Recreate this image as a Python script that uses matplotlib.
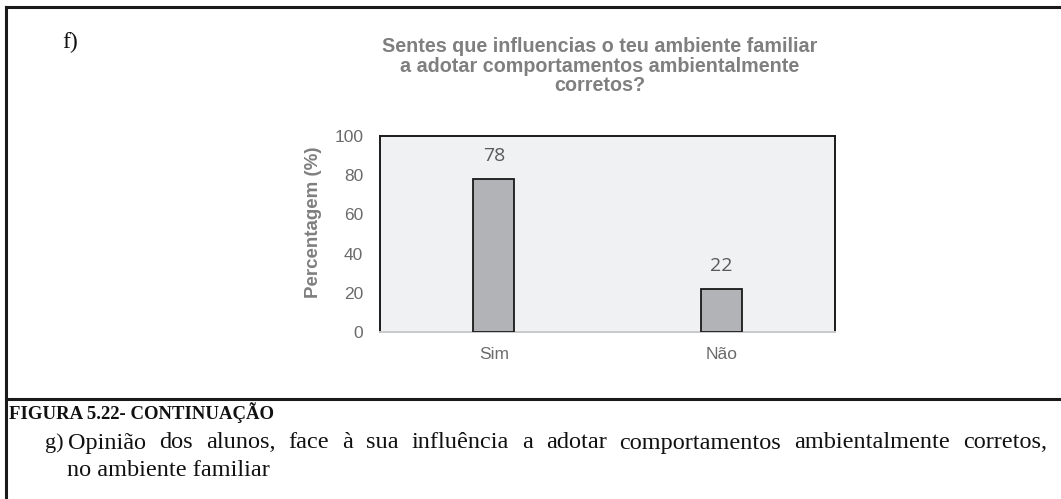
# Figura 5.22 f) - influência no ambiente familiar

import matplotlib
matplotlib.use("Agg")
from matplotlib import pyplot as plt
from matplotlib.lines import Line2D

categorias = ["Sim", "Não"]
percentagens = [78, 22]
yticks = [0, 20, 40, 60, 80, 100]

titulo = "Sentes que influencias o teu ambiente familiar\na adotar comportamentos ambientalmente\ncorretos?"
ylabel = "Percentagem (%)"
legenda_figura = "FIGURA 5.22- CONTINUAÇÃO"
texto_g1 = "Opinião dos alunos, face à sua influência a adotar comportamentos ambientalmente corretos,"
texto_g2 = "no ambiente familiar"

W, H = 1061, 499
fig = plt.figure(figsize=(W / 100, H / 100), dpi=100)
fig.patch.set_facecolor("white")

# moldura da página
fig.add_artist(Line2D([6 / W, 6 / W], [0, 1 - 7 / H], color="#1a1a1a", lw=2.2, transform=fig.transFigure))
fig.add_artist(Line2D([6 / W, 1], [1 - 7 / H, 1 - 7 / H], color="#1a1a1a", lw=2.2, transform=fig.transFigure))
fig.add_artist(Line2D([6 / W, 1], [1 - 399 / H, 1 - 399 / H], color="#1a1a1a", lw=2.2, transform=fig.transFigure))

fig.text(62 / W, 1 - 42 / H, "f)", family="Liberation Serif", fontsize=17, va="center", ha="left", color="#111111")

# gráfico
ax = fig.add_axes([380 / W, 1 - 332 / H, 455 / W, 196 / H])
ax.set_facecolor("#f0f1f3")
x = list(range(len(categorias)))
ax.bar(x, percentagens, width=0.18, color="#b2b3b6", edgecolor="#1a1a1a", linewidth=1.3, zorder=3)
for xi, v in zip(x, percentagens):
    ax.text(xi, v + 7, str(v), ha="center", va="bottom", fontsize=14, family="Open Sans", color="#595959")

ax.set_xlim(-0.5, 1.5)
ax.set_ylim(0, 100)
ax.set_yticks(yticks)
ax.set_xticks(x)
ax.set_xticklabels(categorias)
ax.tick_params(axis="both", length=0, labelsize=12.5, labelcolor="#6b6b6b")
ax.tick_params(axis="y", pad=12)
ax.tick_params(axis="x", pad=11)
for lab in ax.get_xticklabels() + ax.get_yticklabels():
    lab.set_family("Liberation Sans")

for s in ["left", "top", "right"]:
    ax.spines[s].set_color("#1a1a1a")
    ax.spines[s].set_linewidth(1.4)
ax.spines["bottom"].set_color("#c9c9c9")
ax.spines["bottom"].set_linewidth(1.4)

fig.text(313 / W, 1 - 222 / H, ylabel, rotation=90, ha="center", va="center",
         fontsize=13.5, fontweight="bold", family="Liberation Sans", color="#7f7f7f")

fig.text(600 / W, 1 - 66 / H, titulo, ha="center", va="center", fontsize=14.2,
         fontweight="bold", family="Liberation Sans", color="#7f7f7f", linespacing=1.05)

# texto por baixo
fig.text(9 / W, 1 - 413 / H, legenda_figura, family="Liberation Serif", fontweight="bold",
         fontsize=13.5, va="center", ha="left", color="#111111")
fig.text(45 / W, 1 - 443 / H, "g)", family="Liberation Serif", fontsize=16, va="center", ha="left", color="#111111")
fig.text(67 / W, 1 - 471 / H, texto_g2, family="Liberation Serif", fontsize=17.5, va="center", ha="left", color="#111111")

# linha justificada entre x=67 e x=1047
palavras = texto_g1.split(" ")
renderer = fig.canvas.get_renderer()
textos = [fig.text(0, 1 - 443 / H, p, family="Liberation Serif", fontsize=17.5, va="center",
                   ha="left", color="#111111") for p in palavras]
larguras = [t.get_window_extent(renderer).width for t in textos]
espaco = (1047 - 68 - sum(larguras)) / (len(palavras) - 1)
pos = 68
for t, w in zip(textos, larguras):
    t.set_x(pos / W)
    pos += w + espaco

fig.savefig("out.png", dpi=100)
